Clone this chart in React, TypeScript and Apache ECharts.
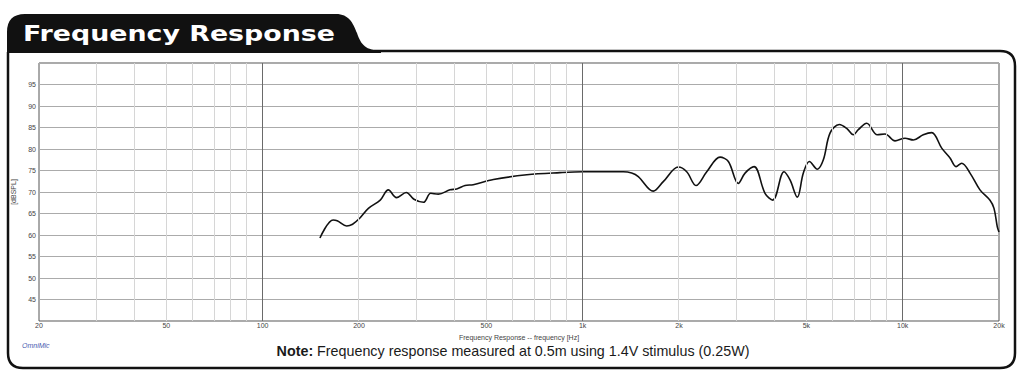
import React, { useEffect, useRef } from "react";
import * as echarts from "echarts";

// Measured response (frequency in Hz, SPL in dB)
const FREQ_HZ = [
  151, 166, 171, 183, 191, 201, 214, 233, 247, 262, 281, 297, 318, 335, 354, 385, 404, 429, 455,
  526, 669, 849, 1004, 1217, 1339, 1423, 1492, 1662, 1786, 1990, 2114, 2260, 2442, 2687, 2853,
  3064, 3217, 3432, 3714, 3926, 4258, 4446, 4686, 4893, 5109, 5412, 5651, 5929, 6338, 6685, 7011,
  7268, 7720, 8332, 8808, 9464, 10172, 10796, 11598, 12324, 13243, 14060, 14679, 15291, 16236,
  17440, 18745, 19294, 19758, 20000,
];
const SPL_DB = [
  59.3, 63.5, 63.3, 62.1, 62.5, 63.9, 66.2, 68.1, 70.5, 68.7, 69.9, 68.3, 67.6, 69.7, 69.5, 70.5, 70.7, 71.5, 71.7,
  72.9, 74.0, 74.5, 74.7, 74.7, 74.7, 74.4, 73.6, 70.2, 72.4, 75.8, 74.7, 71.5, 74.7, 78.1, 77.1,
  72.0, 74.4, 75.9, 69.7, 68.1, 74.7, 72.8, 68.8, 74.4, 77.1, 75.3, 77.5, 83.7, 85.7, 84.8, 83.3,
  84.5, 86.0, 83.3, 83.5, 81.9, 82.5, 82.1, 83.3, 83.8, 80.2, 77.9, 75.9, 76.7, 74.4,
  70.5, 68.1, 66.2, 61.9, 60.7,
];

const X_LABEL_HZ = [20, 50, 100, 200, 500, 1000, 2000, 5000, 10000, 20000];
const MINOR_GRID_HZ = [30, 40, 50, 60, 70, 80, 90, 200, 300, 400, 500, 600, 700, 800, 900, 2000, 3000, 4000, 5000, 6000, 7000, 8000, 9000];
const MAJOR_GRID_HZ = [100, 1000, 10000];
const X_MIN_HZ = 20;
const X_MAX_HZ = 20000;
const Y_MIN = 40;
const Y_MAX = 100;
const Y_STEP = 5;

const TITLE = "Frequency Response";
const X_NAME = "Frequency Response -- frequency [Hz]";
const Y_NAME = "[dBSPL]";
const BRAND = "OmniMic";
const NOTE = "Frequency response measured at 0.5m using 1.4V stimulus (0.25W)";

const TAB_PATH =
  "M7 53 L7 32 Q7 14 25 14 L336 14 C349 14 353 23 357 33 C361 45 366 50.5 381 50.5 L381 53 Z";
const FRAME_PATH =
  "M8 52 L8 353 Q8 368 23 368 L1000 368 Q1015 368 1015 353 L1015 66 Q1015 51 1000 51 L370 51";

echarts.graphic.registerShape("titleTab", echarts.graphic.extendPath(TAB_PATH, {}));
echarts.graphic.registerShape("outerFrame", echarts.graphic.extendPath(FRAME_PATH, {}));

function fmtHz(v: number): string {
  const f = Math.round(Math.pow(10, v));
  return f >= 1000 ? f / 1000 + "k" : String(f);
}

export default function App() {
  const ref = useRef<HTMLDivElement>(null);

  useEffect(() => {
    const el = ref.current;
    if (!el) return;
    const chart = echarts.init(el, null, { renderer: "svg" });
    const font = "Liberation Sans";

    const gridLines = [
      ...MINOR_GRID_HZ.map((f) => ({
        xAxis: Math.log10(f),
        lineStyle: { color: "#d6d6d6", width: 1, type: "solid" },
      })),
      ...MAJOR_GRID_HZ.map((f) => ({
        xAxis: Math.log10(f),
        lineStyle: { color: "#6a6a6a", width: 1, type: "solid" },
      })),
    ];

    chart.setOption({
      animation: false,
      backgroundColor: "#ffffff",
      grid: {
        left: 39,
        right: 25,
        top: 63,
        bottom: 63,
        show: true,
        borderColor: "#555555",
        borderWidth: 1,
        backgroundColor: "#ffffff",
      },
      xAxis: {
        type: "value",
        min: Math.log10(X_MIN_HZ),
        max: Math.log10(X_MAX_HZ),
        axisLine: { show: false },
        axisTick: { show: false },
        splitLine: { show: false },
        axisLabel: {
          customValues: X_LABEL_HZ.map((f) => Math.log10(f)),
          formatter: (v: number) => fmtHz(v),
          fontSize: 7,
          color: "#444",
          fontFamily: font,
          margin: 1,
        },
        name: X_NAME,
        nameLocation: "middle",
        nameGap: 8,
        nameTextStyle: { fontSize: 7, color: "#444", fontFamily: font },
      },
      yAxis: {
        type: "value",
        min: Y_MIN,
        max: Y_MAX,
        interval: Y_STEP,
        axisLine: { show: false },
        axisTick: { show: false },
        axisLabel: {
          fontSize: 7,
          color: "#444",
          fontFamily: font,
          margin: 3,
          showMinLabel: false,
          showMaxLabel: false,
        },
        splitLine: { lineStyle: { color: "#ababab", width: 1 } },
        name: Y_NAME,
        nameLocation: "middle",
        nameGap: 15,
        nameTextStyle: { fontSize: 7, color: "#444", fontFamily: font },
      },
      series: [
        {
          type: "line",
          data: [],
          silent: true,
          z: 1,
          markLine: {
            silent: true,
            animation: false,
            symbol: ["none", "none"],
            label: { show: false },
            emphasis: { disabled: true },
            data: gridLines,
          },
        },
        {
          type: "line",
          data: FREQ_HZ.map((f, i) => [Math.log10(f), SPL_DB[i]]),
          showSymbol: false,
          smooth: 0.35,
          z: 3,
          silent: true,
          lineStyle: { color: "#111111", width: 1.6 },
        },
      ],
      graphic: [
        {
          type: "outerFrame",
          x: 0,
          y: 0,
          z: 10,
          style: { fill: "none", stroke: "#111", lineWidth: 2.5 },
        },
        {
          type: "titleTab",
          x: 0,
          y: 0,
          z: 11,
          style: { fill: "#111", stroke: "none" },
        },
        {
          type: "text",
          x: 23,
          y: 33,
          scaleX: 1.22,
          z: 12,
          style: {
            text: TITLE,
            fill: "#ffffff",
            font: 'bold 22px "DejaVu Sans"',
            align: "left",
            verticalAlign: "middle",
          },
        },
        {
          type: "text",
          x: 22,
          y: 345,
          z: 12,
          style: {
            text: BRAND,
            fill: "#4a5cb0",
            font: 'italic 7px "Liberation Sans"',
            align: "left",
            verticalAlign: "middle",
          },
        },
        {
          type: "text",
          x: 513,
          y: 351,
          z: 12,
          style: {
            text: "{b|Note:} " + NOTE,
            fill: "#1a1a1a",
            fontSize: 14.3,
            fontFamily: font,
            align: "center",
            verticalAlign: "middle",
            rich: {
              b: { fontWeight: "bold", fontSize: 14.3, fontFamily: font, fill: "#1a1a1a" },
            },
          },
        },
      ],
    });

    return () => chart.dispose();
  }, []);

  return (
    <div
      ref={ref}
      style={{ position: "fixed", left: 0, top: 0, width: 1024, height: 384, background: "#fff" }}
    />
  );
}
